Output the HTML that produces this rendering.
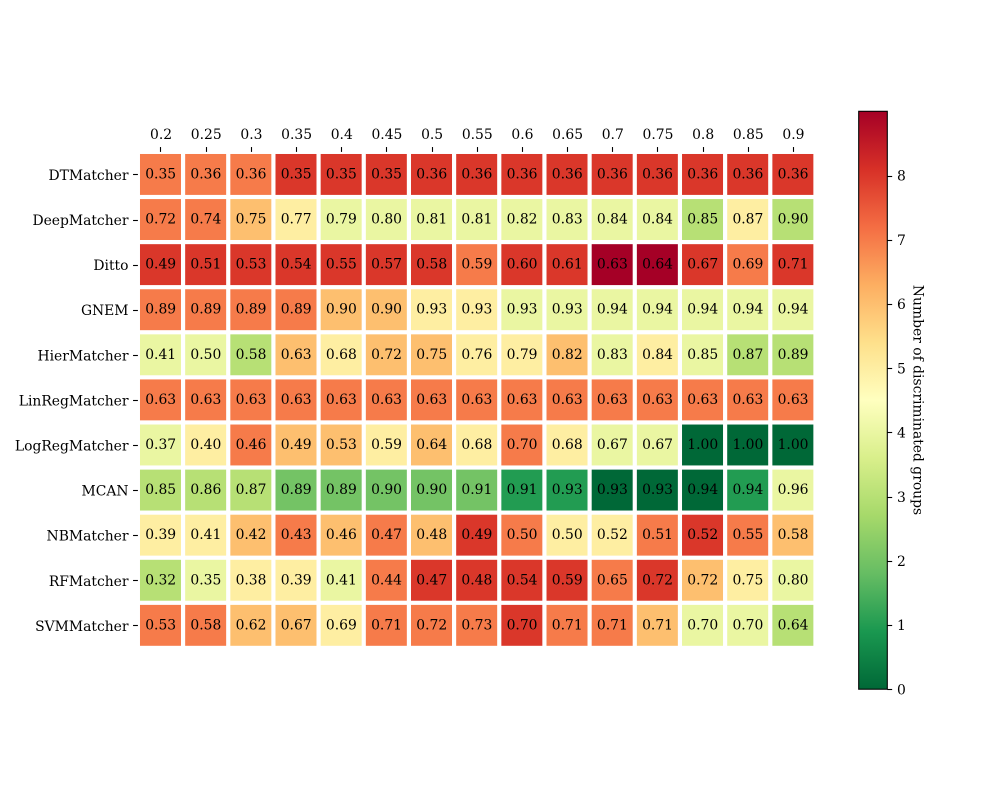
<!DOCTYPE html>
<html lang="en">
<head>
<meta charset="utf-8">
<title>Discriminated groups heatmap</title>
<style>
html,body{margin:0;padding:0;background:#fff;}
svg{display:block;}
text{font-family:"DejaVu Serif","Liberation Serif",serif;font-size:13.89px;fill:#000;}
</style>
</head>
<body>
<svg id="chart" xmlns="http://www.w3.org/2000/svg" width="1000" height="800" viewBox="0 0 1000 800">
  <defs>
    <linearGradient id="cbar-gradient" x1="0" y1="1" x2="0" y2="0"></linearGradient>
  </defs>
  <rect x="0" y="0" width="1000" height="800" fill="#fff"></rect>
  <g id="cells"></g>
  <g id="annotations"></g>
  <g id="x-axis"></g>
  <g id="y-axis"></g>
  <g id="colorbar"></g>
</svg>
<script>
const thresholds = ["0.2","0.25","0.3","0.35","0.4","0.45","0.5","0.55","0.6","0.65","0.7","0.75","0.8","0.85","0.9"];
const matchers = ["DTMatcher","DeepMatcher","Ditto","GNEM","HierMatcher","LinRegMatcher","LogRegMatcher","MCAN","NBMatcher","RFMatcher","SVMMatcher"];
const scores = [
  ["0.35","0.36","0.36","0.35","0.35","0.35","0.36","0.36","0.36","0.36","0.36","0.36","0.36","0.36","0.36"],
  ["0.72","0.74","0.75","0.77","0.79","0.80","0.81","0.81","0.82","0.83","0.84","0.84","0.85","0.87","0.90"],
  ["0.49","0.51","0.53","0.54","0.55","0.57","0.58","0.59","0.60","0.61","0.63","0.64","0.67","0.69","0.71"],
  ["0.89","0.89","0.89","0.89","0.90","0.90","0.93","0.93","0.93","0.93","0.94","0.94","0.94","0.94","0.94"],
  ["0.41","0.50","0.58","0.63","0.68","0.72","0.75","0.76","0.79","0.82","0.83","0.84","0.85","0.87","0.89"],
  ["0.63","0.63","0.63","0.63","0.63","0.63","0.63","0.63","0.63","0.63","0.63","0.63","0.63","0.63","0.63"],
  ["0.37","0.40","0.46","0.49","0.53","0.59","0.64","0.68","0.70","0.68","0.67","0.67","1.00","1.00","1.00"],
  ["0.85","0.86","0.87","0.89","0.89","0.90","0.90","0.91","0.91","0.93","0.93","0.93","0.94","0.94","0.96"],
  ["0.39","0.41","0.42","0.43","0.46","0.47","0.48","0.49","0.50","0.50","0.52","0.51","0.52","0.55","0.58"],
  ["0.32","0.35","0.38","0.39","0.41","0.44","0.47","0.48","0.54","0.59","0.65","0.72","0.72","0.75","0.80"],
  ["0.53","0.58","0.62","0.67","0.69","0.71","0.72","0.73","0.70","0.71","0.71","0.71","0.70","0.70","0.64"]
];
const groupCounts = [
  [7,7,7,8,8,8,8,8,8,8,8,8,8,8,8],
  [7,7,6,5,4,4,4,4,4,4,4,4,3,5,3],
  [8,8,8,8,8,8,8,7,8,8,9,9,8,7,8],
  [7,7,7,7,6,6,5,5,4,4,4,4,4,4,4],
  [4,4,3,6,5,6,6,5,5,6,4,5,4,3,3],
  [7,7,7,7,7,7,7,7,7,7,7,7,7,7,7],
  [4,5,7,6,6,5,6,5,7,5,4,4,0,0,0],
  [3,3,3,2,2,2,2,2,1,1,0,0,0,1,4],
  [5,5,6,7,6,7,6,8,7,5,5,7,8,7,6],
  [3,4,5,5,4,7,8,8,8,8,7,8,6,5,4],
  [7,7,6,6,5,7,7,7,8,7,7,6,4,4,3]
];
const colorbarTicks = [0,1,2,3,4,5,6,7,8];
const colorbarMax = 9;
const colorbarTitle = "Number of discriminated groups";

const SVG_NS = "http://www.w3.org/2000/svg";
const palette = ["#006837","#1a9850","#66bd63","#a6d96a","#d9ef8b","#ffffbf","#fee08b","#fdae61","#f46d43","#d73027","#a50026"];
const layout = { x0: 137.9, y0: 151.9, stepX: 45.17, stepY: 45.09, edge: 4.17, tick: 4.86,
                 cbLeft: 858.7, cbRight: 887.3, cbTop: 111.3, cbBottom: 689.2 };

function xCol(i) { return layout.x0 + i * layout.stepX; }
function yRow(i) { return layout.y0 + i * layout.stepY; }
function yBar(v) { return layout.cbBottom - (v / colorbarMax) * (layout.cbBottom - layout.cbTop); }

function hexToRgb(h) {
  return [parseInt(h.slice(1,3),16), parseInt(h.slice(3,5),16), parseInt(h.slice(5,7),16)];
}
function colorFor(v) {
  const p = Math.max(0, Math.min(1, v / colorbarMax)) * (palette.length - 1);
  const i = Math.min(palette.length - 2, Math.floor(p));
  const f = p - i;
  const a = hexToRgb(palette[i]);
  const b = hexToRgb(palette[i + 1]);
  return "rgb(" + a.map(function (c, k) { return Math.round(c + (b[k] - c) * f); }).join(",") + ")";
}
function make(tag, attrs, parent, content) {
  const el = document.createElementNS(SVG_NS, tag);
  Object.keys(attrs).forEach(function (k) { el.setAttribute(k, attrs[k]); });
  if (content !== undefined) el.textContent = content;
  parent.appendChild(el);
  return el;
}

const cellsGroup = document.getElementById("cells");
const annotationsGroup = document.getElementById("annotations");
const xAxisGroup = document.getElementById("x-axis");
const yAxisGroup = document.getElementById("y-axis");
const colorbarGroup = document.getElementById("colorbar");

groupCounts.forEach(function (row, r) {
  row.forEach(function (count, c) {
    const cell = make("rect", {
      x: xCol(c) + layout.edge / 2,
      y: yRow(r) + layout.edge / 2,
      width: layout.stepX - layout.edge,
      height: layout.stepY - layout.edge,
      fill: colorFor(count)
    }, cellsGroup);
    
    

    const label = make("text", {
      x: xCol(c) + layout.stepX / 2 + 0.2,
      y: yRow(r) + layout.stepY / 2 + 4.0,
      "text-anchor": "middle"
    }, annotationsGroup, scores[r][c]);
    
    
  });
});

thresholds.forEach(function (t, i) {
  const cx = Math.round(xCol(i) + layout.stepX / 2) + 0.5;
  const tick = make("line", {
    x1: cx, x2: cx, y1: 151.9 - layout.tick, y2: 151.9,
    stroke: "#000", "stroke-width": 1.1
  }, xAxisGroup);
  
  

  const label = make("text", {
    x: xCol(i) + layout.stepX / 2 + 0.6,
    y: 139,
    "text-anchor": "middle"
  }, xAxisGroup, t);
  
  
});

matchers.forEach(function (m, i) {
  const cy = Math.round(yRow(i) + layout.stepY / 2) + 0.5;
  const tick = make("line", {
    x1: 137.9 - layout.tick, x2: 137.9, y1: cy, y2: cy,
    stroke: "#000", "stroke-width": 1.1
  }, yAxisGroup);
  
  

  const label = make("text", {
    x: 128.5,
    y: yRow(i) + layout.stepY / 2 + 5.5,
    "text-anchor": "end"
  }, yAxisGroup, m);
  
  
});

const gradient = document.getElementById("cbar-gradient");
palette.forEach(function (col, i) {
  make("stop", { offset: i / (palette.length - 1), "stop-color": col }, gradient);
});
const bar = make("rect", {
  x: layout.cbLeft, y: layout.cbTop,
  width: layout.cbRight - layout.cbLeft,
  height: layout.cbBottom - layout.cbTop,
  fill: "url(#cbar-gradient)", stroke: "#000", "stroke-width": 1.1
}, colorbarGroup);



colorbarTicks.forEach(function (v) {
  const y = Math.round(yBar(v)) + 0.5;
  const tick = make("line", {
    x1: layout.cbRight, x2: layout.cbRight + layout.tick, y1: y, y2: y,
    stroke: "#000", "stroke-width": 1.1
  }, colorbarGroup);
  
  

  const label = make("text", {
    x: 897,
    y: yBar(v) + 5.2
  }, colorbarGroup, String(v));
  
  
});

const title = make("text", {
  x: 0, y: 0,
  "text-anchor": "middle",
  transform: "translate(913.5 400) rotate(90)"
}, colorbarGroup, colorbarTitle);


</script>
</body>
</html>
